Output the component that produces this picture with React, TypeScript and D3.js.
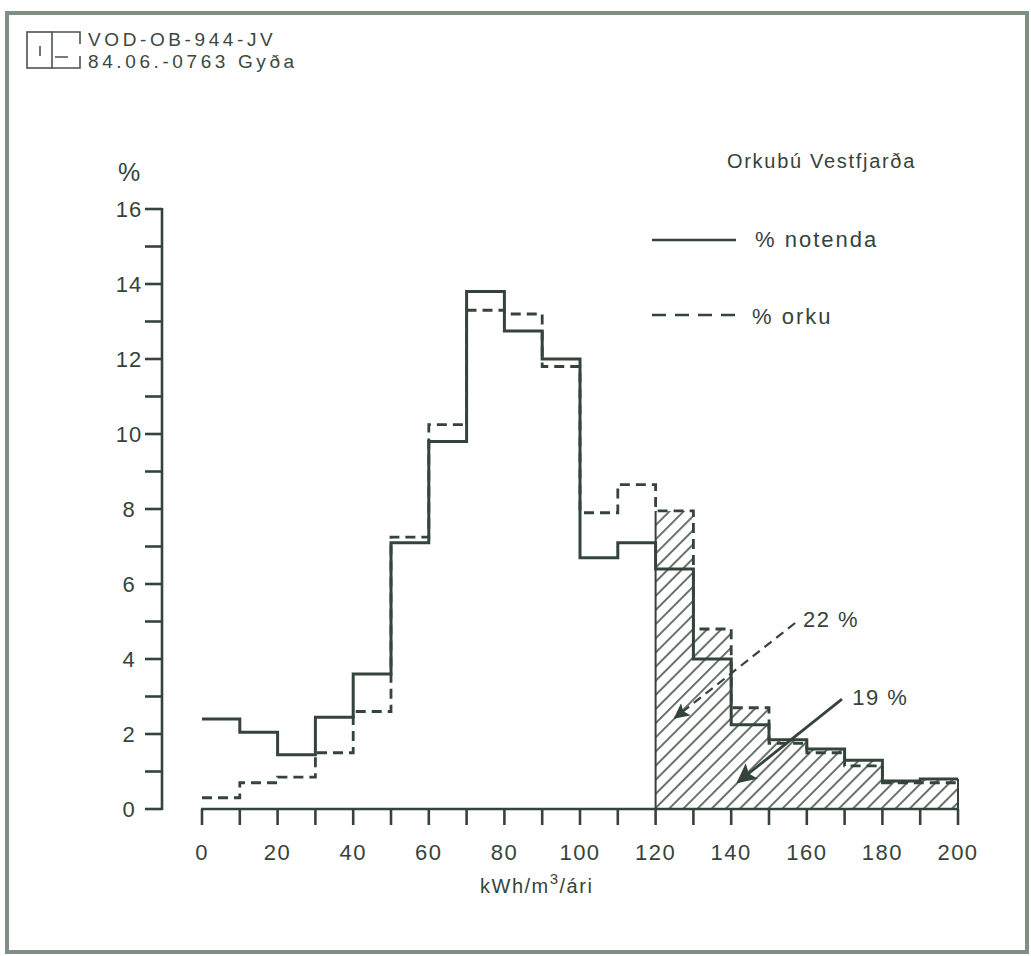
import { useEffect, useRef } from 'react'
import * as d3 from 'd3'

// bins of 10 kWh/m3/ári
const BIN_START = [0, 10, 20, 30, 40, 50, 60, 70, 80, 90, 100, 110, 120, 130, 140, 150, 160, 170, 180, 190]
const BIN_END = 200
const PCT_NOTENDA = [2.4, 2.05, 1.45, 2.45, 3.6, 7.1, 9.8, 13.8, 12.75, 12.0, 6.7, 7.1, 6.4, 4.0, 2.25, 1.85, 1.6, 1.3, 0.75, 0.8]
const PCT_ORKU = [0.3, 0.7, 0.85, 1.5, 2.6, 7.25, 10.25, 13.3, 13.2, 11.8, 7.9, 8.65, 7.95, 4.8, 2.7, 1.75, 1.5, 1.15, 0.7, 0.7]
const HATCH_FROM = 120

const Y_TICKS = [0, 1, 2, 3, 4, 5, 6, 7, 8, 9, 10, 11, 12, 13, 14, 15, 16]
const Y_LABELS = [0, 2, 4, 6, 8, 10, 12, 14, 16]
const X_TICKS = [0, 10, 20, 30, 40, 50, 60, 70, 80, 90, 100, 110, 120, 130, 140, 150, 160, 170, 180, 190, 200]
const X_LABELS = [0, 20, 40, 60, 80, 100, 120, 140, 160, 180, 200]

// annotations in data units: label position, arrow start, arrow tip
const ANNOTATIONS = [
  { label: '22 %', at: [159, 4.85], from: [156.9, 4.96], to: [125.1, 2.43], dashed: true },
  { label: '19 %', at: [172, 2.77], from: [169.3, 2.93], to: [141.8, 0.72], dashed: false },
]

const INK = '#35443a'
const FONT = '"Liberation Sans", Arial, sans-serif'

export default function App() {
  const ref = useRef<SVGSVGElement>(null)

  useEffect(() => {
    if (!ref.current) return
    const svg = d3.select(ref.current)
    svg.selectAll('*').remove()

    const width = 1031
    const height = 956
    svg.attr('width', width).attr('height', height).attr('viewBox', `0 0 ${width} ${height}`)

    svg.append('rect').attr('width', width).attr('height', height).attr('fill', '#fff')

    // frame
    svg.append('rect')
      .attr('x', 7).attr('y', 13).attr('width', 1020).attr('height', 939)
      .attr('fill', 'none').attr('stroke', '#7f8f84').attr('stroke-width', 4)

    // header stamp
    const hdr = svg.append('g').attr('stroke', '#4a544d').attr('stroke-width', 1.6).attr('fill', 'none')
    hdr.append('rect').attr('x', 27).attr('y', 32).attr('width', 25).attr('height', 36)
    hdr.append('path').attr('d', 'M52,32H80V44 M80,56V68H52 M40,46V56 M55,57H68')
    const ht = svg.append('g').attr('font-family', FONT).attr('font-size', 19)
      .attr('fill', '#3d4640').attr('letter-spacing', 3.6)
    ht.append('text').attr('x', 88).attr('y', 46).text('VOD-OB-944-JV')
    ht.append('text').attr('x', 88).attr('y', 68).text('84.06.-0763 Gyða')

    const x = d3.scaleLinear().domain([0, 200]).range([202, 958])
    const y = d3.scaleLinear().domain([0, 16]).range([809, 209])
    const yAxisX = 162

    // hatch pattern
    const defs = svg.append('defs')
    const pat = defs.append('pattern')
      .attr('id', 'hatch').attr('patternUnits', 'userSpaceOnUse')
      .attr('width', 10).attr('height', 10).attr('patternTransform', 'rotate(45)')
    pat.append('line').attr('x1', 5).attr('y1', 0).attr('x2', 5).attr('y2', 10)
      .attr('stroke', INK).attr('stroke-width', 1.5)

    defs.append('marker')
      .attr('id', 'head').attr('viewBox', '0 0 10 10').attr('refX', 9).attr('refY', 5)
      .attr('markerWidth', 7).attr('markerHeight', 7).attr('markerUnits', 'strokeWidth')
      .attr('orient', 'auto')
      .append('path').attr('d', 'M0,0L10,5L0,10L2,5Z').attr('fill', INK)

    // hatched tail, under the upper of the two curves
    const tail = BIN_START.map((b, i) => ({ b, v: Math.max(PCT_NOTENDA[i], PCT_ORKU[i]) }))
      .filter(d => d.b >= HATCH_FROM)
    const tailPts = [...tail, { b: BIN_END, v: tail[tail.length - 1].v }]
    const area = d3.area<{ b: number; v: number }>()
      .curve(d3.curveStepAfter)
      .x(d => x(d.b)).y0(y(0)).y1(d => y(d.v))
    svg.append('path').attr('d', area(tailPts)).attr('fill', 'url(#hatch)')
    svg.append('line')
      .attr('x1', x(HATCH_FROM)).attr('x2', x(HATCH_FROM))
      .attr('y1', y(0)).attr('y2', y(tail[0].v))
      .attr('stroke', INK).attr('stroke-width', 2)
    svg.append('line')
      .attr('x1', x(BIN_END)).attr('x2', x(BIN_END))
      .attr('y1', y(0)).attr('y2', y(tail[tail.length - 1].v))
      .attr('stroke', INK).attr('stroke-width', 2)

    // y axis
    const ya = svg.append('g').attr('stroke', INK).attr('stroke-width', 2.6)
    ya.append('line').attr('x1', yAxisX).attr('x2', yAxisX).attr('y1', y(0) + 1).attr('y2', y(16) - 1)
    ya.selectAll('line.t').data(Y_TICKS).join('line').attr('class', 't')
      .attr('x1', yAxisX - 17).attr('x2', yAxisX).attr('y1', d => y(d)).attr('y2', d => y(d))
    svg.append('g').attr('font-family', FONT).attr('font-size', 22).attr('fill', INK)
      .attr('text-anchor', 'middle').attr('letter-spacing', 1)
      .selectAll('text').data(Y_LABELS).join('text')
      .attr('x', 129).attr('y', d => y(d) + 8).text(d => `${d}`)
    svg.append('text').attr('x', 118).attr('y', 181)
      .attr('font-family', FONT).attr('font-size', 25).attr('fill', INK).text('%')

    // x axis
    const xa = svg.append('g').attr('stroke', INK).attr('stroke-width', 2.6)
    xa.append('line').attr('x1', x(0) - 1).attr('x2', x(200) + 1).attr('y1', y(0)).attr('y2', y(0))
    xa.selectAll('line.t').data(X_TICKS).join('line').attr('class', 't')
      .attr('x1', d => x(d)).attr('x2', d => x(d)).attr('y1', y(0)).attr('y2', y(0) + 16)
    svg.append('g').attr('font-family', FONT).attr('font-size', 22).attr('fill', INK)
      .attr('text-anchor', 'middle').attr('letter-spacing', 1.5)
      .selectAll('text').data(X_LABELS).join('text')
      .attr('x', d => x(d)).attr('y', 860).text(d => `${d}`)
    const xl = svg.append('text').attr('x', 480).attr('y', 893)
      .attr('font-family', FONT).attr('font-size', 20).attr('fill', INK).attr('letter-spacing', 1.5)
    xl.append('tspan').text('kWh/m')
    xl.append('tspan').attr('dy', -9).attr('font-size', 15).text('3')
    xl.append('tspan').attr('dy', 9).text('/ári')

    // step curves
    const step = (vals: number[]) => {
      const pts: [number, number][] = BIN_START.map((b, i) => [b, vals[i]])
      pts.push([BIN_END, vals[vals.length - 1]])
      return d3.line<[number, number]>().curve(d3.curveStepAfter)
        .x(d => x(d[0])).y(d => y(d[1]))(pts)
    }
    svg.append('path').attr('d', step(PCT_ORKU)).attr('fill', 'none')
      .attr('stroke', INK).attr('stroke-width', 2.8).attr('stroke-dasharray', '10,6')
    svg.append('path').attr('d', step(PCT_NOTENDA)).attr('fill', 'none')
      .attr('stroke', INK).attr('stroke-width', 3)

    // annotations
    ANNOTATIONS.forEach(a => {
      svg.append('line')
        .attr('x1', x(a.from[0])).attr('y1', y(a.from[1]))
        .attr('x2', x(a.to[0])).attr('y2', y(a.to[1]))
        .attr('stroke', INK).attr('stroke-width', a.dashed ? 2.2 : 2.8)
        .attr('stroke-dasharray', a.dashed ? '9,6' : null)
        .attr('marker-end', 'url(#head)')
      svg.append('text').attr('x', x(a.at[0])).attr('y', y(a.at[1]))
        .attr('font-family', FONT).attr('font-size', 22).attr('fill', INK)
        .attr('letter-spacing', 1.5).text(a.label)
    })

    // title + legend
    const lg = svg.append('g').attr('font-family', FONT).attr('fill', INK)
    lg.append('text').attr('x', 727).attr('y', 168).attr('font-size', 20)
      .attr('letter-spacing', 1.7).text('Orkubú Vestfjarða')
    lg.append('line').attr('x1', 652).attr('x2', 736).attr('y1', 240).attr('y2', 240)
      .attr('stroke', INK).attr('stroke-width', 2.6)
    lg.append('text').attr('x', 755).attr('y', 247).attr('font-size', 22)
      .attr('letter-spacing', 2).text('% notenda')
    lg.append('line').attr('x1', 652).attr('x2', 736).attr('y1', 315).attr('y2', 315)
      .attr('stroke', INK).attr('stroke-width', 2.6).attr('stroke-dasharray', '14,9')
    lg.append('text').attr('x', 752).attr('y', 324).attr('font-size', 22)
      .attr('letter-spacing', 2).text('% orku')
  }, [])

  return <svg ref={ref} style={{ position: 'absolute', left: 0, top: 0 }} />
}
